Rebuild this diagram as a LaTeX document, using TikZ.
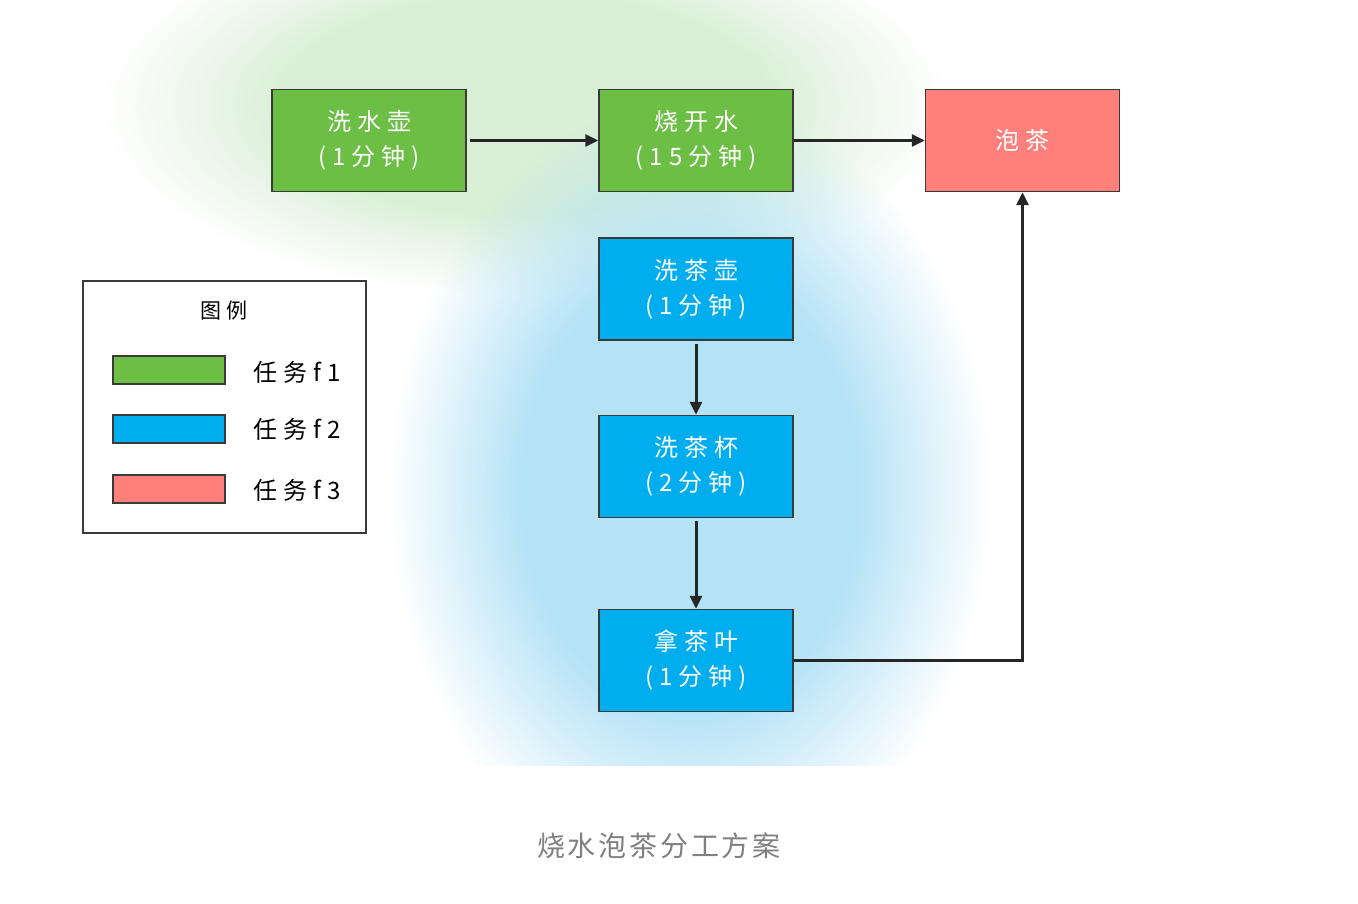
\documentclass[tikz,border=0pt]{standalone}
\usepackage{fontspec}
\newfontfamily\cjkbox[LetterSpace=25]{Noto Sans CJK SC}
\newfontfamily\cjkcap[LetterSpace=10]{Noto Sans CJK SC}
\usetikzlibrary{arrows.meta,fadings}
\definecolor{fgreen}{HTML}{6CBE45}
\definecolor{fblue}{HTML}{00AEEF}
\definecolor{fred}{HTML}{FF7F7B}
\definecolor{edgegray}{HTML}{3A3A3A}
\definecolor{glowgreen}{HTML}{D9EFD6}
\definecolor{glowblue}{HTML}{B5E3F6}
\definecolor{capgray}{HTML}{808080}
\pgfdeclareradialshading{glowshade}{\pgfpointorigin}{color(0bp)=(white); color(14bp)=(white); color(25bp)=(black); color(50bp)=(black)}
\pgfdeclarefading{glow}{\pgfuseshading{glowshade}}
\begin{document}
\begin{tikzpicture}[x=1pt,y=-1pt,
  task/.style={draw=edgegray, line width=1.5pt, minimum width=194pt, minimum height=102pt,
    inner sep=0pt, text=white, align=center, font=\cjkbox\fontsize{24}{35}\selectfont},
  swatch/.style={draw=edgegray, line width=1.5pt, minimum width=112pt, minimum height=28pt, inner sep=0pt},
  legendlabel/.style={anchor=west, inner sep=0pt, font=\cjkbox\fontsize{24}{28}\selectfont},
  flow/.style={line width=3pt, draw=black!85, -{Triangle[length=13pt,width=12pt]}},
  glowfill/.style={path fading=glow, fit fading=true}
]
\useasboundingbox (0,0) rectangle (1358,904);
\fill[white] (0,0) rectangle (1358,904);
% background glows
\begin{scope}
  \clip (0,0) rectangle (1358,765);
  \fill[glowgreen, glowfill] (525,105) ellipse (420 and 190);
  \fill[glowblue, glowfill] (690,490) ellipse (300 and 390);
\end{scope}

% task nodes
\node[task, fill=fgreen] (a) at (369,140.5) {洗水壶\\(1分钟)};
\node[task, fill=fgreen] (b) at (696,140.5) {烧开水\\(15分钟)};
\node[task, fill=fred]   (c) at (1022.5,140.5) {泡茶};
\node[task, fill=fblue]  (d) at (696,289) {洗茶壶\\(1分钟)};
\node[task, fill=fblue]  (e) at (696,466.5) {洗茶杯\\(2分钟)};
\node[task, fill=fblue]  (f) at (696,660.5) {拿茶叶\\(1分钟)};

% connectors
\draw[flow, shorten <=3pt] (a.east) -- (b.west);
\draw[flow] (b.east) -- (c.west);
\draw[flow, shorten <=3pt] (d.south) -- (e.north);
\draw[flow, shorten <=3pt] (e.south) -- (f.north);
\draw[flow] (f.east) -| (c.south);

% legend
\node[draw=edgegray, line width=1.5pt, fill=white, minimum width=283pt, minimum height=252pt, inner sep=0pt] (legend) at (224.5,407) {};
\node[font=\cjkbox\fontsize{21}{24}\selectfont, inner sep=0pt] (ltitle) at (224,311) {图例};
\node[swatch, fill=fgreen] (s1) at (169,370) {};
\node[swatch, fill=fblue]  (s2) at (169,429) {};
\node[swatch, fill=fred]   (s3) at (169,489) {};
\node[legendlabel] (l1) at (253,372) {任务f1};
\node[legendlabel] (l2) at (253,429) {任务f2};
\node[legendlabel] (l3) at (253,490) {任务f3};

% caption
\node[font=\cjkcap\fontsize{28}{32}\selectfont, text=capgray, inner sep=0pt] (cap) at (659,846) {烧水泡茶分工方案};
\end{tikzpicture}
\end{document}
